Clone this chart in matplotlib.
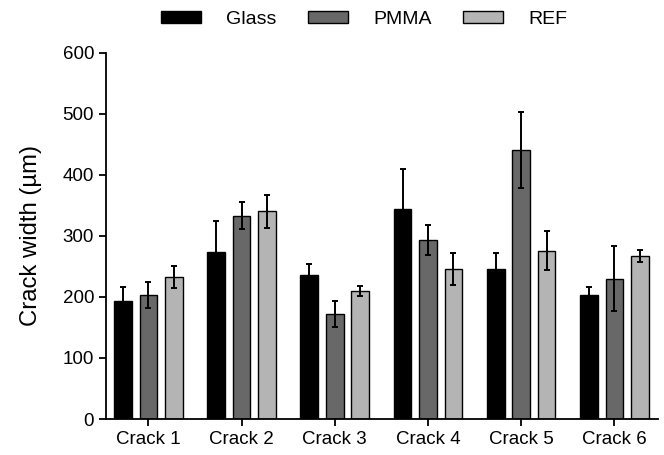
import numpy as np
import matplotlib
matplotlib.use("Agg")
import matplotlib.pyplot as plt

plt.rcParams['font.family'] = ['Liberation Sans', 'DejaVu Sans']

cracks = ["Crack 1", "Crack 2", "Crack 3", "Crack 4", "Crack 5", "Crack 6"]
series = ["Glass", "PMMA", "REF"]

glass = [193, 273, 236, 344, 246, 203]
glass_err = [24, 51, 18, 65, 26, 13]
pmma = [203, 333, 172, 293, 441, 230]
pmma_err = [21, 22, 21, 25, 62, 53]
ref = [233, 340, 210, 246, 276, 267]
ref_err = [18, 27, 8, 26, 32, 10]

colors = ["#000000", "#686868", "#b4b4b4"]

fig = plt.figure(figsize=(6.64, 4.55), dpi=100)
ax = fig.add_axes([0.1596, 0.0791, 0.8309, 0.8049])

x = np.arange(len(cracks))
w = 0.19
off = 0.273
for i, (vals, errs) in enumerate([(glass, glass_err), (pmma, pmma_err), (ref, ref_err)]):
    pos = x + (i - 1) * off
    ax.bar(pos, vals, w, color=colors[i], edgecolor="black", linewidth=1.0,
           label=series[i], zorder=2)
    ax.errorbar(pos, vals, yerr=errs, fmt="none", ecolor="black",
                elinewidth=1.4, capsize=2.2, capthick=1.4, zorder=3)

ax.set_xlim(-0.455, len(cracks) - 1 + 0.465)
ax.set_ylim(0, 600)
ax.set_yticks(range(0, 601, 100))
ax.set_xticks(x)
ax.set_xticklabels(cracks)
ax.set_ylabel("Crack width (µm)", fontsize=17.2, labelpad=15)

for s in ["top", "right"]:
    ax.spines[s].set_visible(False)
for s in ["left", "bottom"]:
    ax.spines[s].set_linewidth(1.3)
ax.tick_params(axis="both", labelsize=13.5, width=1.3, length=5, direction="out")

fig.legend(loc="center", bbox_to_anchor=(364 / 664, 1 - 19 / 455), ncol=3,
           frameon=False, fontsize=14, handlelength=2.06, handleheight=0.57,
           handletextpad=1.3, columnspacing=1.6, borderpad=0)

fig.savefig("out.png", dpi=100)
